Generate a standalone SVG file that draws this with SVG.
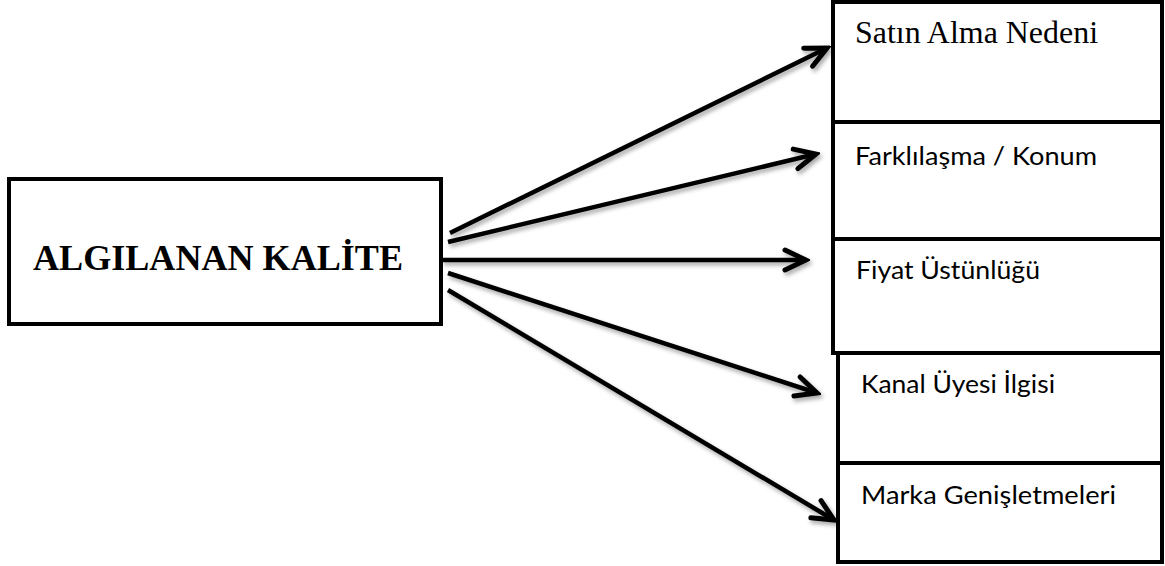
<svg xmlns="http://www.w3.org/2000/svg" width="1165" height="566" viewBox="0 0 1165 566">
  <style>
    .box { fill: #ffffff; stroke: #000000; stroke-width: 4; }
    .title { font-family: "Liberation Serif", "Times New Roman", serif; font-weight: bold; font-size: 35px; fill: #000; }
    .serif { font-family: "Liberation Serif", "Times New Roman", serif; font-size: 31px; fill: #000; }
    .sans { font-family: Lato, "Open Sans", "Liberation Sans", sans-serif; font-size: 25px; fill: #000; }
    .conn { fill: none; stroke: #000; stroke-width: 4.5; stroke-linecap: butt; marker-end: url(#chevron); }
  </style>
  <defs>
    <marker id="chevron" markerUnits="userSpaceOnUse" viewBox="-26 -14 30 28" refX="0" refY="0" markerWidth="30" markerHeight="28" orient="auto">
      <path d="M-21,-10 L0,0 L-21,10" fill="none" stroke="#000" stroke-width="5" stroke-linecap="round" stroke-linejoin="miter"/>
    </marker>
    <filter id="shade" x="-10%" y="-10%" width="120%" height="130%">
      <feDropShadow dx="2" dy="3" stdDeviation="2" flood-color="#000" flood-opacity="0.35"/>
    </filter>
  </defs>

  <!-- source node -->
  <g id="algilanan-kalite">
    <rect class="box" x="9" y="179" width="432" height="145"/>
    <text class="title" x="33" y="270" textLength="370" lengthAdjust="spacingAndGlyphs">ALGILANAN KALİTE</text>
  </g>

  <!-- connectors -->
  <g id="connectors" filter="url(#shade)">
    <line class="conn" x1="450" y1="233" x2="827" y2="48"/>
    <line class="conn" x1="448" y1="242" x2="816" y2="154"/>
    <line class="conn" x1="442" y1="260" x2="806" y2="260"/>
    <line class="conn" x1="448" y1="273" x2="817" y2="393"/>
    <line class="conn" x1="448" y1="290" x2="834" y2="520"/>
  </g>

  <!-- target nodes -->
  <g id="satin-alma-nedeni">
    <rect class="box" x="833" y="2" width="329" height="120"/>
    <text class="serif" x="855" y="43" textLength="243" lengthAdjust="spacingAndGlyphs">Satın Alma Nedeni</text>
  </g>
  <g id="farklilasma-konum">
    <rect class="box" x="833" y="122" width="329" height="117"/>
    <text class="sans" x="855" y="165" textLength="242" lengthAdjust="spacingAndGlyphs">Farklılaşma / Konum</text>
  </g>
  <g id="fiyat-ustunlugu">
    <rect class="box" x="833" y="239" width="329" height="114"/>
    <text class="sans" x="856" y="279" textLength="184" lengthAdjust="spacingAndGlyphs">Fiyat Üstünlüğü</text>
  </g>
  <g id="kanal-uyesi-ilgisi">
    <rect class="box" x="838" y="353" width="324" height="110"/>
    <text class="sans" x="861" y="393" textLength="194" lengthAdjust="spacingAndGlyphs">Kanal Üyesi İlgisi</text>
  </g>
  <g id="marka-genisletmeleri">
    <rect class="box" x="838" y="463" width="324" height="99"/>
    <text class="sans" x="861" y="504" textLength="255" lengthAdjust="spacingAndGlyphs">Marka Genişletmeleri</text>
  </g>
</svg>
